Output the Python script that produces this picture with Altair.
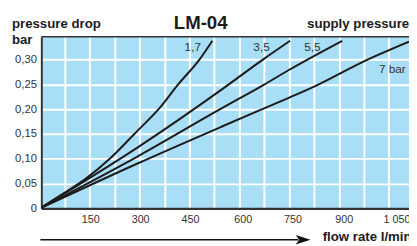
import altair as alt
import pandas as pd

# ---- data ----
series_names = ["1,7", "3,5", "5,5", "7 bar"]
flow_17 = [0, 70, 132, 210, 284, 357, 416, 480, 519]
drop_17 = [0, 0.030, 0.057, 0.100, 0.150, 0.200, 0.250, 0.300, 0.338]
flow_35 = [0, 292, 553, 671, 753]
drop_35 = [0, 0.122, 0.2425, 0.300, 0.338]
flow_55 = [0, 292, 553, 671, 749, 910]
drop_55 = [0, 0.104, 0.204, 0.248, 0.279, 0.338]
flow_7 = [0, 292, 553, 749, 827, 974, 1111]
drop_7 = [0, 0.090, 0.1666, 0.223, 0.246, 0.296, 0.336]

label_text = ["1,7", "3,5", "5,5", "7 bar"]
label_flow = [460, 667, 820, 1061]
label_drop = [0.318, 0.318, 0.318, 0.272]

x_grid_values = [75, 150, 225, 300, 375, 450, 525, 600, 675, 750, 825, 900, 975, 1050]
y_tick_values = [0, 0.05, 0.10, 0.15, 0.20, 0.25, 0.30]

title_text = "LM-04"
y_title_1 = "pressure drop"
y_title_2 = "bar"
legend_title = "supply pressure"
x_title = "flow rate l/min"

# ---- build table ----
rows = []
for name, fx, dy in zip(series_names, [flow_17, flow_35, flow_55, flow_7],
                        [drop_17, drop_35, drop_55, drop_7]):
    for a, b in zip(fx, dy):
        rows.append({"series": name, "flow": a, "drop": b})
df = pd.DataFrame(rows)
labels_df = pd.DataFrame({"text": label_text, "flow": label_flow, "drop": label_drop})
one = pd.DataFrame({"k": [0]})

PL = 34
W, H = 375, 175
FONT = "Liberation Sans"
BG = "#a9dff6"
DARK = "#1c1c1c"
GREY = "#333333"

xscale = alt.Scale(domain=[4, 1111], nice=False, zero=False)
yscale = alt.Scale(domain=[0, 0.346], nice=False, zero=False)

xaxis = alt.Axis(
    values=x_grid_values,
    labelExpr="datum.value % 150 == 0 ? replace(format(datum.value, ','), ',', ' ') : ''",
    labelOffset={"condition": [
        {"test": "datum.value >= 1050", "value": 8},
        {"test": "datum.value >= 900", "value": 5},
        {"test": "datum.value >= 600", "value": 3.5}], "value": 0.5},
    grid=True, gridColor="white", gridWidth=2, gridOpacity=1,
    ticks=False, domainColor=GREY, domainWidth=2.5,
    labelFont=FONT, labelFontSize=11, labelColor=GREY, labelPadding=5,
    labelFlush=False, labelOverlap=False, title=None)
yaxis = alt.Axis(
    values=y_tick_values,
    labelExpr="datum.value == 0 ? '0' : replace(format(datum.value, '.2f'), '.', ',')",
    grid=True, gridColor="white", gridWidth=2, gridOpacity=1,
    ticks=False, domainColor=GREY, domainWidth=2,
    labelFont=FONT, labelFontSize=11.5, labelColor=GREY, labelPadding=5,
    labelFlush=False, labelOverlap=False, title=None)

lines = alt.Chart(df).mark_line(color=DARK, strokeWidth=2, clip=True,
                                interpolate="monotone").encode(
    x=alt.X("flow:Q", scale=xscale, axis=xaxis),
    y=alt.Y("drop:Q", scale=yscale, axis=yaxis),
    detail="series:N",
)

series_labels = alt.Chart(labels_df).mark_text(
    font=FONT, fontSize=12, color=GREY, align="center", baseline="alphabetic"
).encode(x=alt.X("flow:Q", scale=xscale, axis=xaxis),
         y=alt.Y("drop:Q", scale=yscale, axis=yaxis), text="text:N")

top_border = alt.Chart(one).mark_rule(color=GREY, strokeWidth=1.5).encode(
    x=alt.value(0), x2=alt.value(W), y=alt.value(0))

def txt(s, x, y, size, align="left", weight="bold", color=DARK):
    return alt.Chart(one).mark_text(
        text=s, font=FONT, fontSize=size, fontWeight=weight, color=color,
        align=align, baseline="alphabetic", clip=False
    ).encode(x=alt.value(x), y=alt.value(y))

t_title = txt(title_text, 162.5, -8, 19, align="center")
t_y1 = txt(y_title_1, -30, -9, 13.5)
t_y2 = txt(y_title_2, -30, 7.5, 13.5)
t_leg = txt(legend_title, 271, -9, 13.5)
t_x = txt(x_title, 287, 208.5, 13.5)

arrow_line = alt.Chart(one).mark_rule(color="#111111", strokeWidth=1.5).encode(
    x=alt.value(-1), x2=alt.value(262), y=alt.value(207))
arrow_head = alt.Chart(one).mark_point(
    shape="M -1 -0.66 L 1 0 L -1 0.66 L -0.55 0 Z", filled=True, color="#111111",
    size=225, opacity=1, strokeWidth=0
).encode(x=alt.value(267), y=alt.value(207))

chart = alt.layer(
    lines, series_labels, top_border, t_title, t_y1, t_y2, t_leg, t_x, arrow_line, arrow_head
).properties(
    width=W, height=H,
    autosize=alt.AutoSizeParams(type="none"),
    padding={"left": PL, "top": 27, "right": 0, "bottom": 36},
    background="white",
).configure_view(fill=BG, strokeWidth=0).configure_axis(labelOverlap=False)

chart.save("out.html", embed_options={"renderer": "svg", "actions": False})
